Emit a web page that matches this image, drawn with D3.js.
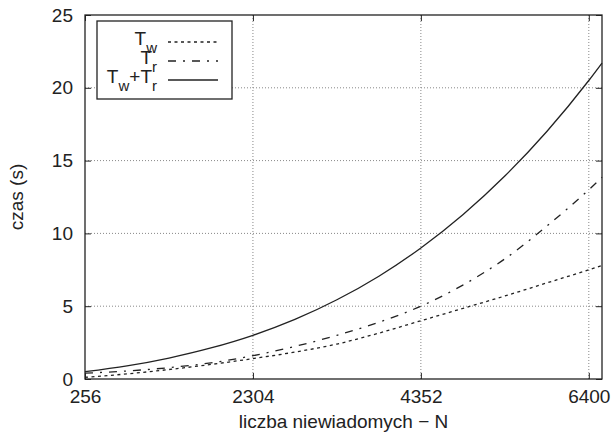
<!DOCTYPE html>
<html>
<head>
<meta charset="utf-8">
<script src="https://cdn.jsdelivr.net/npm/d3@7"></script>
<style>
  body { margin: 0; background: #fff; }
  svg text { font-family: "Liberation Sans", Arial, sans-serif; fill: #222; }
</style>
</head>
<body>
<svg id="chart" width="613" height="438"></svg>
<script>
// values
const nVals  = [256, 768, 1280, 1792, 2304, 2816, 3328, 3840, 4352, 4864, 5376, 5888, 6400, 6561];
const tW     = [0.12, 0.35, 0.65, 1.0, 1.4, 1.85, 2.4, 3.15, 4.0, 4.85, 5.7, 6.6, 7.5, 7.8];
const tR     = [0.4, 0.55, 0.78, 1.11, 1.6, 2.24, 3.0, 3.9, 5.0, 6.45, 8.25, 10.5, 13.0, 13.85];
const tTotal = [0.5, 0.9, 1.44, 2.13, 3.0, 4.09, 5.44, 7.06, 9.0, 11.28, 13.94, 17.0, 20.5, 21.7];
const xTicks = [256, 2304, 4352, 6400];
const yTicks = [0, 5, 10, 15, 20, 25];

const margin = { top: 15, right: 11, bottom: 59, left: 85 },
  width = 613 - margin.left - margin.right,
  height = 438 - margin.top - margin.bottom;

const svg = d3.select("#chart");
const g = svg.append("g").attr("transform", `translate(${margin.left},${margin.top})`);

const x = d3.scaleLinear().domain([256, 6561]).range([0, width]);
const y = d3.scaleLinear().domain([0, 25]).range([height, 0]);

// grid
g.append("g").selectAll("line").data(xTicks.slice(1)).enter().append("line")
  .attr("x1", d => x(d)).attr("x2", d => x(d)).attr("y1", 0).attr("y2", height)
  .attr("stroke", "#888").attr("stroke-width", 1).attr("stroke-dasharray", "1,2");
g.append("g").selectAll("line").data(yTicks.slice(1, -1)).enter().append("line")
  .attr("x1", 0).attr("x2", width).attr("y1", d => y(d)).attr("y2", d => y(d))
  .attr("stroke", "#888").attr("stroke-width", 1).attr("stroke-dasharray", "1,2");

// axes with inward ticks
const fontSize = "19px";
const styleAxis = sel => {
  sel.select(".domain").remove();
  sel.selectAll(".tick line").attr("stroke", "#222");
  sel.selectAll(".tick text").style("font-size", fontSize).attr("fill", "#222");
};
g.append("g").attr("transform", `translate(0,${height})`)
  .call(d3.axisBottom(x).tickValues(xTicks).tickSizeInner(-6).tickPadding(11).tickFormat(d3.format("d")))
  .call(styleAxis);
g.append("g")
  .call(d3.axisTop(x).tickValues(xTicks).tickSizeInner(-6).tickFormat(""))
  .call(styleAxis);
g.append("g")
  .call(d3.axisLeft(y).tickValues(yTicks).tickSizeInner(-6).tickPadding(12))
  .call(styleAxis);
g.append("g").attr("transform", `translate(${width},0)`)
  .call(d3.axisRight(y).tickValues(yTicks).tickSizeInner(-6).tickFormat(""))
  .call(styleAxis);

// frame
g.append("rect").attr("width", width).attr("height", height)
  .attr("fill", "none").attr("stroke", "#222").attr("stroke-width", 1.3);

// curves
const dotted = "3,3.5", dashDot = "8,7,2,7";
const series = [
  { values: tW, dash: dotted },
  { values: tR, dash: dashDot },
  { values: tTotal, dash: null }
];
const line = vals => d3.line()
  .x((d, i) => x(nVals[i]))
  .y(d => y(d))
  .curve(d3.curveMonotoneX)(vals);

series.forEach(s => {
  g.append("path")
    .attr("d", line(s.values))
    .attr("fill", "none")
    .attr("stroke", "#222")
    .attr("stroke-width", 1.3)
    .attr("stroke-dasharray", s.dash);
});

// legend
const lg = svg.append("g");
lg.append("rect").attr("x", 97).attr("y", 21).attr("width", 135).attr("height", 78)
  .attr("fill", "#fff").attr("stroke", "#222").attr("stroke-width", 1.3);
const rows = [
  { y: 42, parts: [["T", 0], ["w", 1]], dash: dotted },
  { y: 61, parts: [["T", 0], ["r", 1]], dash: dashDot },
  { y: 80, parts: [["T", 0], ["w", 1], ["+T", 0], ["r", 1]], dash: null }
];
rows.forEach(r => {
  const t = lg.append("text").attr("x", 157).attr("y", r.y + 3)
    .attr("text-anchor", "end");
  let sub = false;
  r.parts.forEach(p => {
    const isSub = p[1] === 1;
    t.append("tspan")
      .attr("dy", isSub === sub ? 0 : (isSub ? 8 : -8))
      .style("font-size", isSub ? "15px" : fontSize)
      .text(p[0]);
    sub = isSub;
  });
  lg.append("line").attr("x1", 168).attr("x2", 218).attr("y1", r.y).attr("y2", r.y)
    .attr("stroke", "#222").attr("stroke-width", 1.3).attr("stroke-dasharray", r.dash);
});

// axis labels
svg.append("text").attr("x", margin.left + width / 2).attr("y", 428)
  .attr("text-anchor", "middle").style("font-size", fontSize)
  .text("liczba niewiadomych − N");
svg.append("text")
  .attr("transform", `translate(23,${margin.top + height / 2}) rotate(-90)`)
  .attr("text-anchor", "middle").style("font-size", fontSize)
  .text("czas (s)");
</script>
</body>
</html>
